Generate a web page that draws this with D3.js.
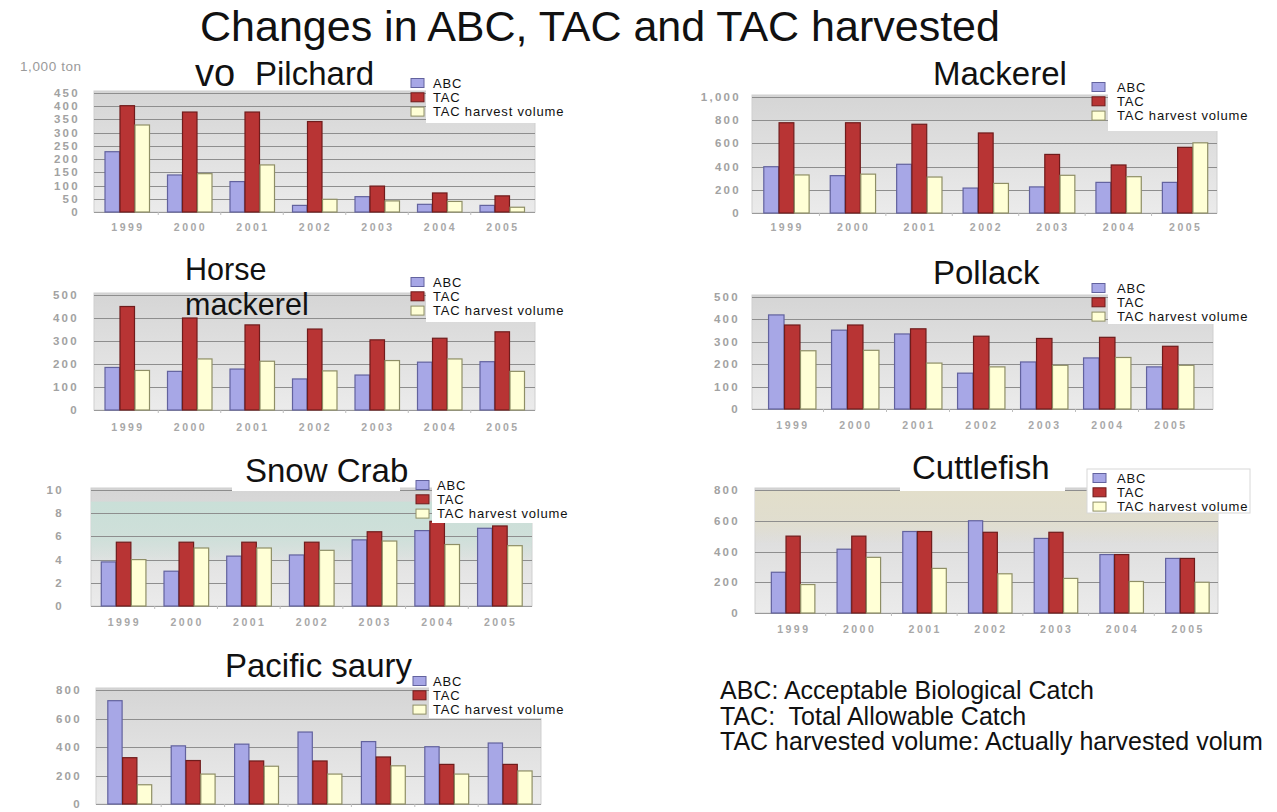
<!DOCTYPE html>
<html><head><meta charset="utf-8">
<script src="https://cdn.jsdelivr.net/npm/d3@7/dist/d3.min.js"></script>
<style>
body{margin:0;background:#fff;}
svg{display:block;font-family:"Liberation Sans",Arial,Helvetica,sans-serif;}
</style></head>
<body><svg id="chart" width="1277" height="812"></svg>
<script>
// ---------- DATA ----------
const years = ["1999","2000","2001","2002","2003","2004","2005"];
const seriesNames = ["ABC","TAC","TAC harvest volume"];

const pilchardABC = [228,140,115,25,58,29,25];
const pilchardTAC = [402,378,378,342,98,72,61];
const pilchardHV  = [329,145,178,48,42,40,18];
const pilchardTicks = [0,50,100,150,200,250,300,350,400,450];

const mackerelABC = [399,322,420,215,225,264,264];
const mackerelTAC = [778,778,765,690,505,414,566];
const mackerelHV  = [328,335,310,255,325,313,605];
const mackerelTicks = [0,200,400,600,800,1000];

const horseABC = [185,168,178,135,152,208,210];
const horseTAC = [450,400,370,352,305,312,340];
const horseHV  = [172,222,212,170,215,222,168];
const horseTicks = [0,100,200,300,400,500];

const pollackABC = [420,352,335,160,210,228,188];
const pollackTAC = [375,375,358,325,315,320,280];
const pollackHV  = [260,262,205,188,195,230,195];
const pollackTicks = [0,100,200,300,400,500];

const snowABC = [3.8,3.0,4.3,4.4,5.7,6.5,6.7];
const snowTAC = [5.5,5.5,5.5,5.5,6.4,7.3,6.9];
const snowHV  = [4.0,5.0,5.0,4.8,5.6,5.3,5.2];
const snowTicks = [0,2,4,6,8,10];

const cuttleABC = [265,415,530,600,485,380,355];
const cuttleTAC = [500,500,530,525,525,380,355];
const cuttleHV  = [185,362,290,255,225,205,200];
const cuttleTicks = [0,200,400,600,800];

const sauryABC = [725,408,420,505,438,402,428];
const sauryTAC = [325,305,302,302,330,278,278];
const sauryHV  = [135,210,265,210,268,210,232];
const sauryTicks = [0,200,400,600,800];

const mainTitle = "Changes in ABC, TAC and TAC harvested";
const titleOverflow = "vo";
const unitLabel = "1,000 ton";
const notes = ["ABC: Acceptable Biological Catch","TAC:  Total Allowable Catch","TAC harvested volume: Actually harvested volum"];

// ---------- LAYOUT (positions / styles only) ----------
const panels = [
 {title:["Pilchard"], tSize:33, tGap:0, data:[pilchardABC,pilchardTAC,pilchardHV], ticks:pilchardTicks,
  bx:[95.75,533.25], pad:0.28, gx:[94,535], yTop:93, yBot:212, labR:80, yearY:231, years:true,
  tX:255, tY:85, tBox:null, lgSw:411, lgTx:433, lgY:83, lgBox:[426,62,146,61], tint:null},
 {title:["Mackerel"], tSize:33, tGap:0, data:[mackerelABC,mackerelTAC,mackerelHV], ticks:mackerelTicks,
  bx:[753,1218], pad:0.31, gx:[752,1217], yTop:97, yBot:213, labR:741, yearY:231, years:true,
  tX:933, tY:85, tBox:null, lgSw:1092, lgTx:1117, lgY:87, lgBox:[1108,76,144,55], tint:null},
 {title:["Horse","mackerel"], tSize:30.5, tGap:34.5, data:[horseABC,horseTAC,horseHV], ticks:horseTicks,
  bx:[95.75,533.25], pad:0.28, gx:[94,535], yTop:295, yBot:410, labR:79, yearY:431, years:true,
  tX:185, tY:280, tBox:[180,255,95,36], lgSw:411, lgTx:433, lgY:282, lgBox:[426,272,146,50], tint:null},
 {title:["Pollack"], tSize:33, tGap:0, data:[pollackABC,pollackTAC,pollackHV], ticks:pollackTicks,
  bx:[760.5,1201.5], pad:0.24, gx:[752,1213], yTop:297, yBot:409, labR:740, yearY:429, years:true,
  tX:933, tY:284, tBox:null, lgSw:1092, lgTx:1117, lgY:288, lgBox:[1108,278,144,46], tint:null},
 {title:["Snow Crab"], tSize:33, tGap:0, data:[snowABC,snowTAC,snowHV], ticks:snowTicks,
  bx:[92,531], pad:0.28, gx:[91,532], yTop:490, yBot:606, labR:64, yearY:626, years:true,
  tX:245, tY:482, tBox:[232,452,168,39], lgSw:416, lgTx:437, lgY:485, lgBox:[432,473,147,50], tint:"#c9e0d8", tintFrom:9, tintTo:3.5},
 {title:["Cuttlefish"], tSize:33, tGap:0, data:[cuttleABC,cuttleTAC,cuttleHV], ticks:cuttleTicks,
  bx:[760,1220], pad:0.33, gx:[755,1218], yTop:490, yBot:613, labR:740, yearY:633, years:true,
  tX:912, tY:479, tBox:[900,450,165,41], lgSw:1093, lgTx:1117, lgY:478, lgBox:[1087,469,163,44], tint:"#e3dfca", tintFrom:800, tintTo:450, lgBorder:true},
 {title:["Pacific saury"], tSize:33, tGap:0, data:[sauryABC,sauryTAC,sauryHV], ticks:sauryTicks,
  bx:[97.8,541.6], pad:0.3, gx:[96,541], yTop:690, yBot:804, labR:82, yearY:0, years:false,
  tX:225, tY:677, tBox:null, lgSw:413, lgTx:433, lgY:681, lgBox:[429,670,145,48], tint:null}
];

const fills   = ["#a7a7e6","#b83434","#ffffd6"];
const strokes = ["#62629e","#6f1c1c","#8f8f66"];

// ---------- DRAW ----------
const svg = d3.select("#chart");
const defs = svg.append("defs");
const grad = defs.append("linearGradient").attr("id","plotbg").attr("x1",0).attr("y1",0).attr("x2",0).attr("y2",1);
grad.append("stop").attr("offset","0%").attr("stop-color","#d5d5d5");
grad.append("stop").attr("offset","100%").attr("stop-color","#ebebeb");

svg.append("rect").attr("width",1277).attr("height",812).attr("fill","#fff");

panels.forEach((p,pi)=>{
  const g = svg.append("g");
  const maxV = d3.max(p.ticks);
  const y = d3.scaleLinear().domain([0,maxV]).range([p.yBot,p.yTop]);
  const x = d3.scaleBand().domain(years).range(p.bx).paddingInner(p.pad).paddingOuter(p.pad/2);
  const xs = d3.scaleBand().domain(d3.range(3)).range([0,x.bandwidth()]);

  // plot background
  g.append("rect").attr("x",p.gx[0]).attr("y",p.yTop-2).attr("width",p.gx[1]-p.gx[0]).attr("height",p.yBot-p.yTop+2)
    .attr("fill","url(#plotbg)").attr("stroke","#cfcfcf").attr("stroke-width",1);
  if(p.tint){
    const gid = "tint"+pi;
    const tg = defs.append("linearGradient").attr("id",gid).attr("x1",0).attr("y1",0).attr("x2",0).attr("y2",1);
    tg.append("stop").attr("offset","0%").attr("stop-color",p.tint).attr("stop-opacity",0.95);
    tg.append("stop").attr("offset","60%").attr("stop-color",p.tint).attr("stop-opacity",0.7);
    tg.append("stop").attr("offset","100%").attr("stop-color",p.tint).attr("stop-opacity",0);
    g.append("rect").attr("x",p.gx[0]).attr("y",y(p.tintFrom)).attr("width",p.gx[1]-p.gx[0]).attr("height",y(p.tintTo)-y(p.tintFrom))
      .attr("fill","url(#"+gid+")");
  }
  // gridlines
  g.selectAll("line.grid").data(p.ticks).enter().append("line")
    .attr("x1",p.gx[0]).attr("x2",p.gx[1]).attr("y1",d=>Math.round(y(d))+0.5).attr("y2",d=>Math.round(y(d))+0.5)
    .attr("stroke",d=>d===0?"#9a9a9a":"#8e8e8e").attr("stroke-width",1);
  // small ticks at category boundaries
  g.selectAll("line.ct").data(years.slice(1)).enter().append("line")
    .attr("x1",d=>x(d)-x.step()*p.pad/2).attr("x2",d=>x(d)-x.step()*p.pad/2)
    .attr("y1",p.yBot).attr("y2",p.yBot+3).attr("stroke","#bdbdbd");

  // y tick labels
  const fmt = d3.format(",");
  g.selectAll("text.yt").data(p.ticks).enter().append("text")
    .attr("x",p.labR).attr("y",d=>y(d)+4).attr("text-anchor","end")
    .attr("font-size",11.5).attr("font-weight","bold").attr("letter-spacing","2.3px")
    .attr("fill","#a2a2a2").text(d=>fmt(d));

  // bars
  p.data.forEach((arr,si)=>{
    g.selectAll("rect.s"+si).data(arr).enter().append("rect")
      .attr("x",(d,i)=>x(years[i])+xs(si)+0.5)
      .attr("y",d=>y(d))
      .attr("width",xs.bandwidth()-0.5)
      .attr("height",d=>p.yBot-y(d))
      .attr("fill",fills[si]).attr("stroke",strokes[si]).attr("stroke-width",1.2);
  });

  // year labels
  if(p.years){
    g.selectAll("text.yr").data(years).enter().append("text")
      .attr("x",d=>x(d)+x.bandwidth()/2+1).attr("y",p.yearY).attr("text-anchor","middle")
      .attr("font-size",10.5).attr("font-weight","bold").attr("letter-spacing","2.5px")
      .attr("fill","#a8a8a8").text(d=>d);
  }

  // title box + title lines
  if(p.tBox){
    g.append("rect").attr("x",p.tBox[0]).attr("y",p.tBox[1]).attr("width",p.tBox[2]).attr("height",p.tBox[3]).attr("fill","#fff");
  }
  p.title.forEach((t,ti)=>{
    g.append("text").attr("x",p.tX).attr("y",p.tY+ti*p.tGap).attr("font-size",p.tSize).attr("fill","#111").text(t);
  });

  // legend
  g.append("rect").attr("x",p.lgBox[0]).attr("y",p.lgBox[1]).attr("width",p.lgBox[2]).attr("height",p.lgBox[3])
    .attr("fill","#fff").attr("stroke",p.lgBorder?"#d8d8d8":"none");
  seriesNames.forEach((n,si)=>{
    const cy = p.lgY + si*14.3;
    g.append("rect").attr("x",p.lgSw).attr("y",cy-4.5).attr("width",13).attr("height",9)
      .attr("fill",fills[si]).attr("stroke",strokes[si]).attr("stroke-width",1);
    g.append("text").attr("x",p.lgTx).attr("y",cy+4.5).attr("font-size",13).attr("letter-spacing","0.8px")
      .attr("fill","#111").text(n);
  });
});

// main title
svg.append("text").attr("x",600).attr("y",41).attr("text-anchor","middle").attr("font-size",43).attr("fill","#111").text(mainTitle);
svg.append("text").attr("x",195).attr("y",86).attr("font-size",38).attr("fill","#111").text(titleOverflow);
svg.append("text").attr("x",20).attr("y",71).attr("font-size",13.5).attr("fill","#9a9a9a").attr("letter-spacing","0.6px").text(unitLabel);

// notes
notes.forEach((t,i)=>{
  svg.append("text").attr("x",720).attr("y",699+i*25.5).attr("font-size",25).attr("fill","#111")
    .style("white-space","pre").text(t);
});
</script>
</body></html>
